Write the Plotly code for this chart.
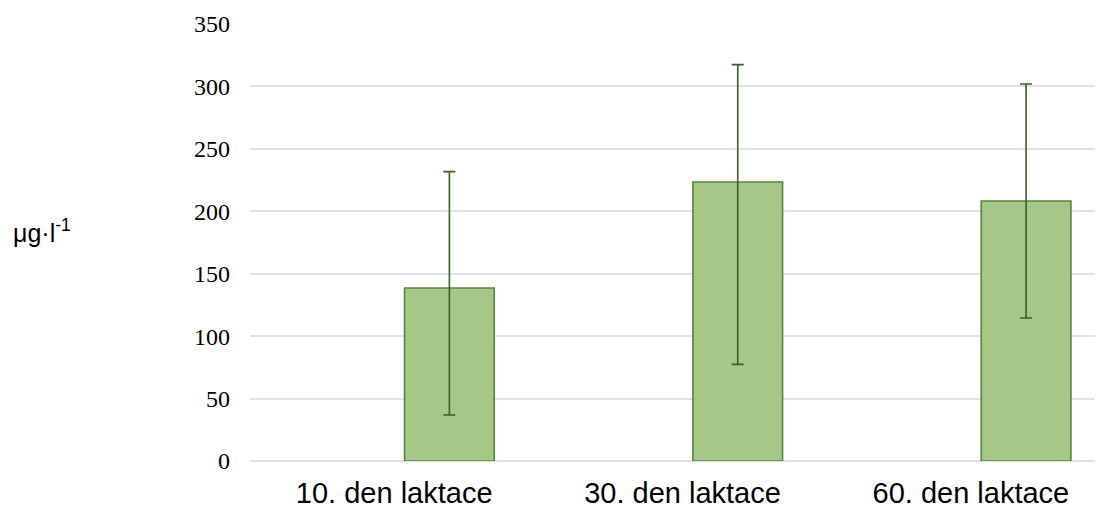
import plotly.graph_objects as go

categories = ["10. den laktace", "30. den laktace", "60. den laktace"]
means = [138.6, 223.5, 208.2]
err_plus = [93.2, 94.0, 93.7]
err_minus = [101.8, 146.1, 93.7]
y_ticks = [0, 50, 100, 150, 200, 250, 300, 350]

fig = go.Figure()
fig.add_trace(go.Bar(
    x=categories,
    y=means,
    width=0.311,
    offset=0.036,
    marker=dict(color="#A5C886", line=dict(color="#578636", width=1.6)),
    error_y=dict(type="data", symmetric=False, array=err_plus, arrayminus=err_minus,
                 color="#3B5E27", thickness=1.6, width=6),
    showlegend=False,
))

fig.update_layout(
    width=1103, height=509, autosize=False,
    margin=dict(l=242, r=0, t=16, b=56, pad=0),
    plot_bgcolor="white", paper_bgcolor="white",
    xaxis=dict(range=[-0.5, 2.486], showgrid=False, zeroline=False, showline=False,
               ticks="", tickfont=dict(family="Liberation Sans, Arial", size=29, color="#000000"),
               ticklabelstandoff=12),
    yaxis=dict(range=[0, 350], tickvals=y_ticks, showgrid=True, gridcolor="#DEE2E8", gridwidth=1.5,
               zeroline=True, zerolinecolor="#DEE2E8", zerolinewidth=1.5, showline=False, ticks="",
               tickfont=dict(family="Liberation Serif, Times New Roman", size=24, color="#000000"),
               ticklabelstandoff=19),
    annotations=[dict(text="μg·l<sup>-1</sup>", xref="paper", yref="paper", x=-0.2775, y=0.527,
                      xanchor="left", yanchor="middle", showarrow=False,
                      font=dict(family="Liberation Sans, Arial", size=25, color="#000000"))],
)

fig.write_html("out.html")
